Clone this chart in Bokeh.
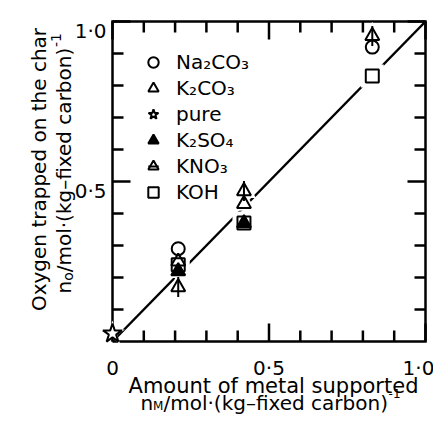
import math
from bokeh.plotting import figure
from bokeh.models import Label, Legend, LegendItem, Range1d
from bokeh.embed import file_html
from bokeh.resources import INLINE
from bokeh.core.properties import value

# ---------------- data ----------------
na2co3_x = [0.21, 0.83]
na2co3_y = [0.29, 0.92]
k2co3_x = [0.21, 0.42]
k2co3_y = [0.25, 0.43]
pure_x = [0.0]
pure_y = [0.025]
k2so4_x = [0.21, 0.42]
k2so4_y = [0.22, 0.37]
kno3_x = [0.21, 0.42, 0.83]
kno3_y = [0.17, 0.47, 0.955]
koh_x = [0.21, 0.42, 0.83]
koh_y = [0.24, 0.37, 0.83]
line_x = [0.0, 1.0]
line_y = [0.0, 1.0]

axis_lo, axis_hi = 0.0, 1.0
x_major = [0.0, 0.5, 1.0]
x_major_labels = ["0", "0·5", "1·0"]
y_major = [0.5, 1.0]
y_major_labels = ["0·5", "1·0"]
minor_ticks = [0.1, 0.2, 0.3, 0.4, 0.6, 0.7, 0.8, 0.9]

series_labels = ["Na₂CO₃", "K₂CO₃", "pure", "K₂SO₄", "KNO₃", "KOH"]

# ---------------- layout (canvas pixels) ----------------
FONT = "DejaVu Sans"
W, H = 433, 415
PX0, PX1 = 112, 425      # canvas x of x=0 and x=1
PY0, PY1 = 341, 21       # canvas y of y=0 and y=1
SX = (PX1 - PX0) / (axis_hi - axis_lo)
SY = (PY0 - PY1) / (axis_hi - axis_lo)

p = figure(width=W, height=H, min_border=0,
           x_range=Range1d(axis_lo - PX0 / SX, axis_lo + (W - PX0) / SX),
           y_range=Range1d(axis_lo - (H - PY0) / SY, axis_lo + PY0 / SY),
           x_axis_location=None, y_axis_location=None,
           output_backend="svg", toolbar_location=None)
p.outline_line_color = None
p.grid.visible = False
p.background_fill_color = "white"
p.border_fill_color = "white"

AX_LW = 2.5
MAJ, MIN = 18, 11   # tick lengths in px

# frame box
p.line([axis_lo, axis_hi, axis_hi, axis_lo, axis_lo],
       [axis_lo, axis_lo, axis_hi, axis_hi, axis_lo],
       line_color="black", line_width=AX_LW, line_join="miter")

# ticks on all four sides, pointing inward
x0s, y0s, x1s, y1s = [], [], [], []
for ticks, ln in ((x_major, MAJ), (minor_ticks, MIN)):
    for t in ticks:
        x0s += [t, t]
        y0s += [axis_lo, axis_hi]
        x1s += [t, t]
        y1s += [axis_lo + ln / SY, axis_hi - ln / SY]
for ticks, ln in ((y_major, MAJ), (minor_ticks, MIN)):
    for t in ticks:
        x0s += [axis_lo, axis_hi]
        y0s += [t, t]
        x1s += [axis_lo + ln / SX, axis_hi - ln / SX]
        y1s += [t, t]
p.segment(x0s, y0s, x1s, y1s, line_color="black", line_width=AX_LW)

# tick labels (the last x label is nudged left so it stays on the canvas)
TICK_FS = "20px"
p.text(x=x_major, y=[axis_lo] * len(x_major), text=x_major_labels,
       text_font=value(FONT), text_font_size=TICK_FS, text_color="black",
       text_align="center", text_baseline="alphabetic",
       x_offset=[0, 0, -7], y_offset=26)
p.text(x=[axis_lo] * len(y_major), y=y_major, text=y_major_labels,
       text_font=value(FONT), text_font_size=TICK_FS, text_color="black",
       text_align="right", text_baseline="alphabetic", x_offset=-6, y_offset=9)

# fitted line
p.line(line_x, line_y, line_color="black", line_width=2.5)

HALO = 10
LW = 2

# white halos that break the line around the markers
p.scatter(na2co3_x, na2co3_y, marker="circle", size=13 + HALO, fill_color="white", line_color=None)
p.scatter(k2co3_x, k2co3_y, marker="triangle", size=14 + HALO, fill_color="white", line_color=None)
p.scatter(k2so4_x, k2so4_y, marker="triangle", size=14 + HALO, fill_color="white", line_color=None)
p.scatter(kno3_x, kno3_y, marker="triangle", size=14 + HALO, fill_color="white", line_color=None)
p.scatter(kno3_x, kno3_y, marker="dash", angle=math.pi / 2, size=24, line_color="white", line_width=6)
p.scatter(koh_x, koh_y, marker="square", size=13 + HALO, fill_color="white", line_color=None)
p.scatter(pure_x, pure_y, marker="star", size=26, fill_color="white", line_color=None)

# markers
r_koh = p.scatter(koh_x, koh_y, marker="square", size=13, fill_color="white",
                  line_color="black", line_width=LW)
r_na = p.scatter(na2co3_x, na2co3_y, marker="circle", size=13, fill_color="white",
                 line_color="black", line_width=LW)
r_k2 = p.scatter(k2co3_x, k2co3_y, marker="triangle", size=14, fill_color=None,
                 line_color="black", line_width=LW)
r_so4 = p.scatter(k2so4_x, k2so4_y, marker="triangle", size=14, fill_color="black",
                  line_color="black", line_width=LW)
r_no3 = p.scatter(kno3_x, kno3_y, marker="triangle", size=14, fill_color="white",
                  line_color="black", line_width=LW)
r_no3s = p.scatter(kno3_x, kno3_y, marker="dash", angle=math.pi / 2, size=20,
                   line_color="black", line_width=LW)
r_pure = p.scatter(pure_x, pure_y, marker="star", size=20, fill_color="white",
                   line_color="black", line_width=LW)

legend = Legend(items=[
    LegendItem(label=value(series_labels[0]), renderers=[r_na]),
    LegendItem(label=value(series_labels[1]), renderers=[r_k2]),
    LegendItem(label=value(series_labels[2]), renderers=[r_pure]),
    LegendItem(label=value(series_labels[3]), renderers=[r_so4]),
    LegendItem(label=value(series_labels[4]), renderers=[r_no3, r_no3s]),
    LegendItem(label=value(series_labels[5]), renderers=[r_koh]),
], location=(153 - 15, H - 205))
legend.border_line_color = None
legend.background_fill_alpha = 0
legend.padding = 0
legend.margin = 0
legend.spacing = 0
legend.glyph_width = 30
legend.glyph_height = 26
legend.label_height = 26
legend.label_standoff = 8
legend.label_text_font = FONT
legend.label_text_font_size = "20px"
legend.label_text_color = "black"
p.add_layout(legend)

# ---------------- axis titles (as text) ----------------
CW = {"n": 0.634, "o": 0.612, "m": 0.974, "l": 0.278, "/": 0.337, "·": 0.318, "(": 0.390,
      ")": 0.390, "k": 0.579, "g": 0.635, "–": 0.5, "-": 0.361, "f": 0.352, "i": 0.278,
      "x": 0.592, "e": 0.615, "d": 0.635, " ": 0.318, "c": 0.550, "a": 0.613, "r": 0.411,
      "b": 0.635, "M": 0.863, "1": 0.636}


def tw(s, size):
    return sum(CW[c] for c in s) * size


def lab(cx, cy, text, size, angle=0.0, align="left"):
    # cx, cy: canvas pixels from the top-left corner
    p.add_layout(Label(x=cx, y=H - cy, x_units="screen", y_units="screen", text=text,
                       text_font=FONT, text_font_size=f"{size}px", text_color="black",
                       angle=angle, text_align=align, text_baseline="alphabetic"))


UNIT = "/mol·(kg–fixed carbon)"

# x title
lab(273, 385, "Amount of metal supported", 21, align="center")
XS, XSUB = 20, 12
wtot = tw("n", XS) + tw("M", XSUB) + tw(UNIT, XS) + tw("-1", XSUB)
cx = 270 - wtot / 2
base = 402
lab(cx, base, "n", XS)
cx += tw("n", XS)
lab(cx, base + 3, "M", XSUB)
cx += tw("M", XSUB)
lab(cx, base, UNIT, XS)
cx += tw(UNIT, XS)
lab(cx, base - 9, "-1", XSUB)

# y title (rotated)
YS, YSUB = 20, 14
A = math.pi / 2
lab(38, 169, "Oxygen trapped on the char", YS, angle=A, align="center")
yb = 63
cy = 293
lab(yb, cy, "n", YS, angle=A)
cy -= tw("n", YS)
lab(yb + 4, cy, "o", YSUB, angle=A)
cy -= tw("o", YSUB)
lab(yb, cy, UNIT, YS, angle=A)
cy -= tw(UNIT, YS)
lab(yb - 8, cy, "-1", YSUB, angle=A)

open("out.html", "w").write(file_html(p, INLINE))
